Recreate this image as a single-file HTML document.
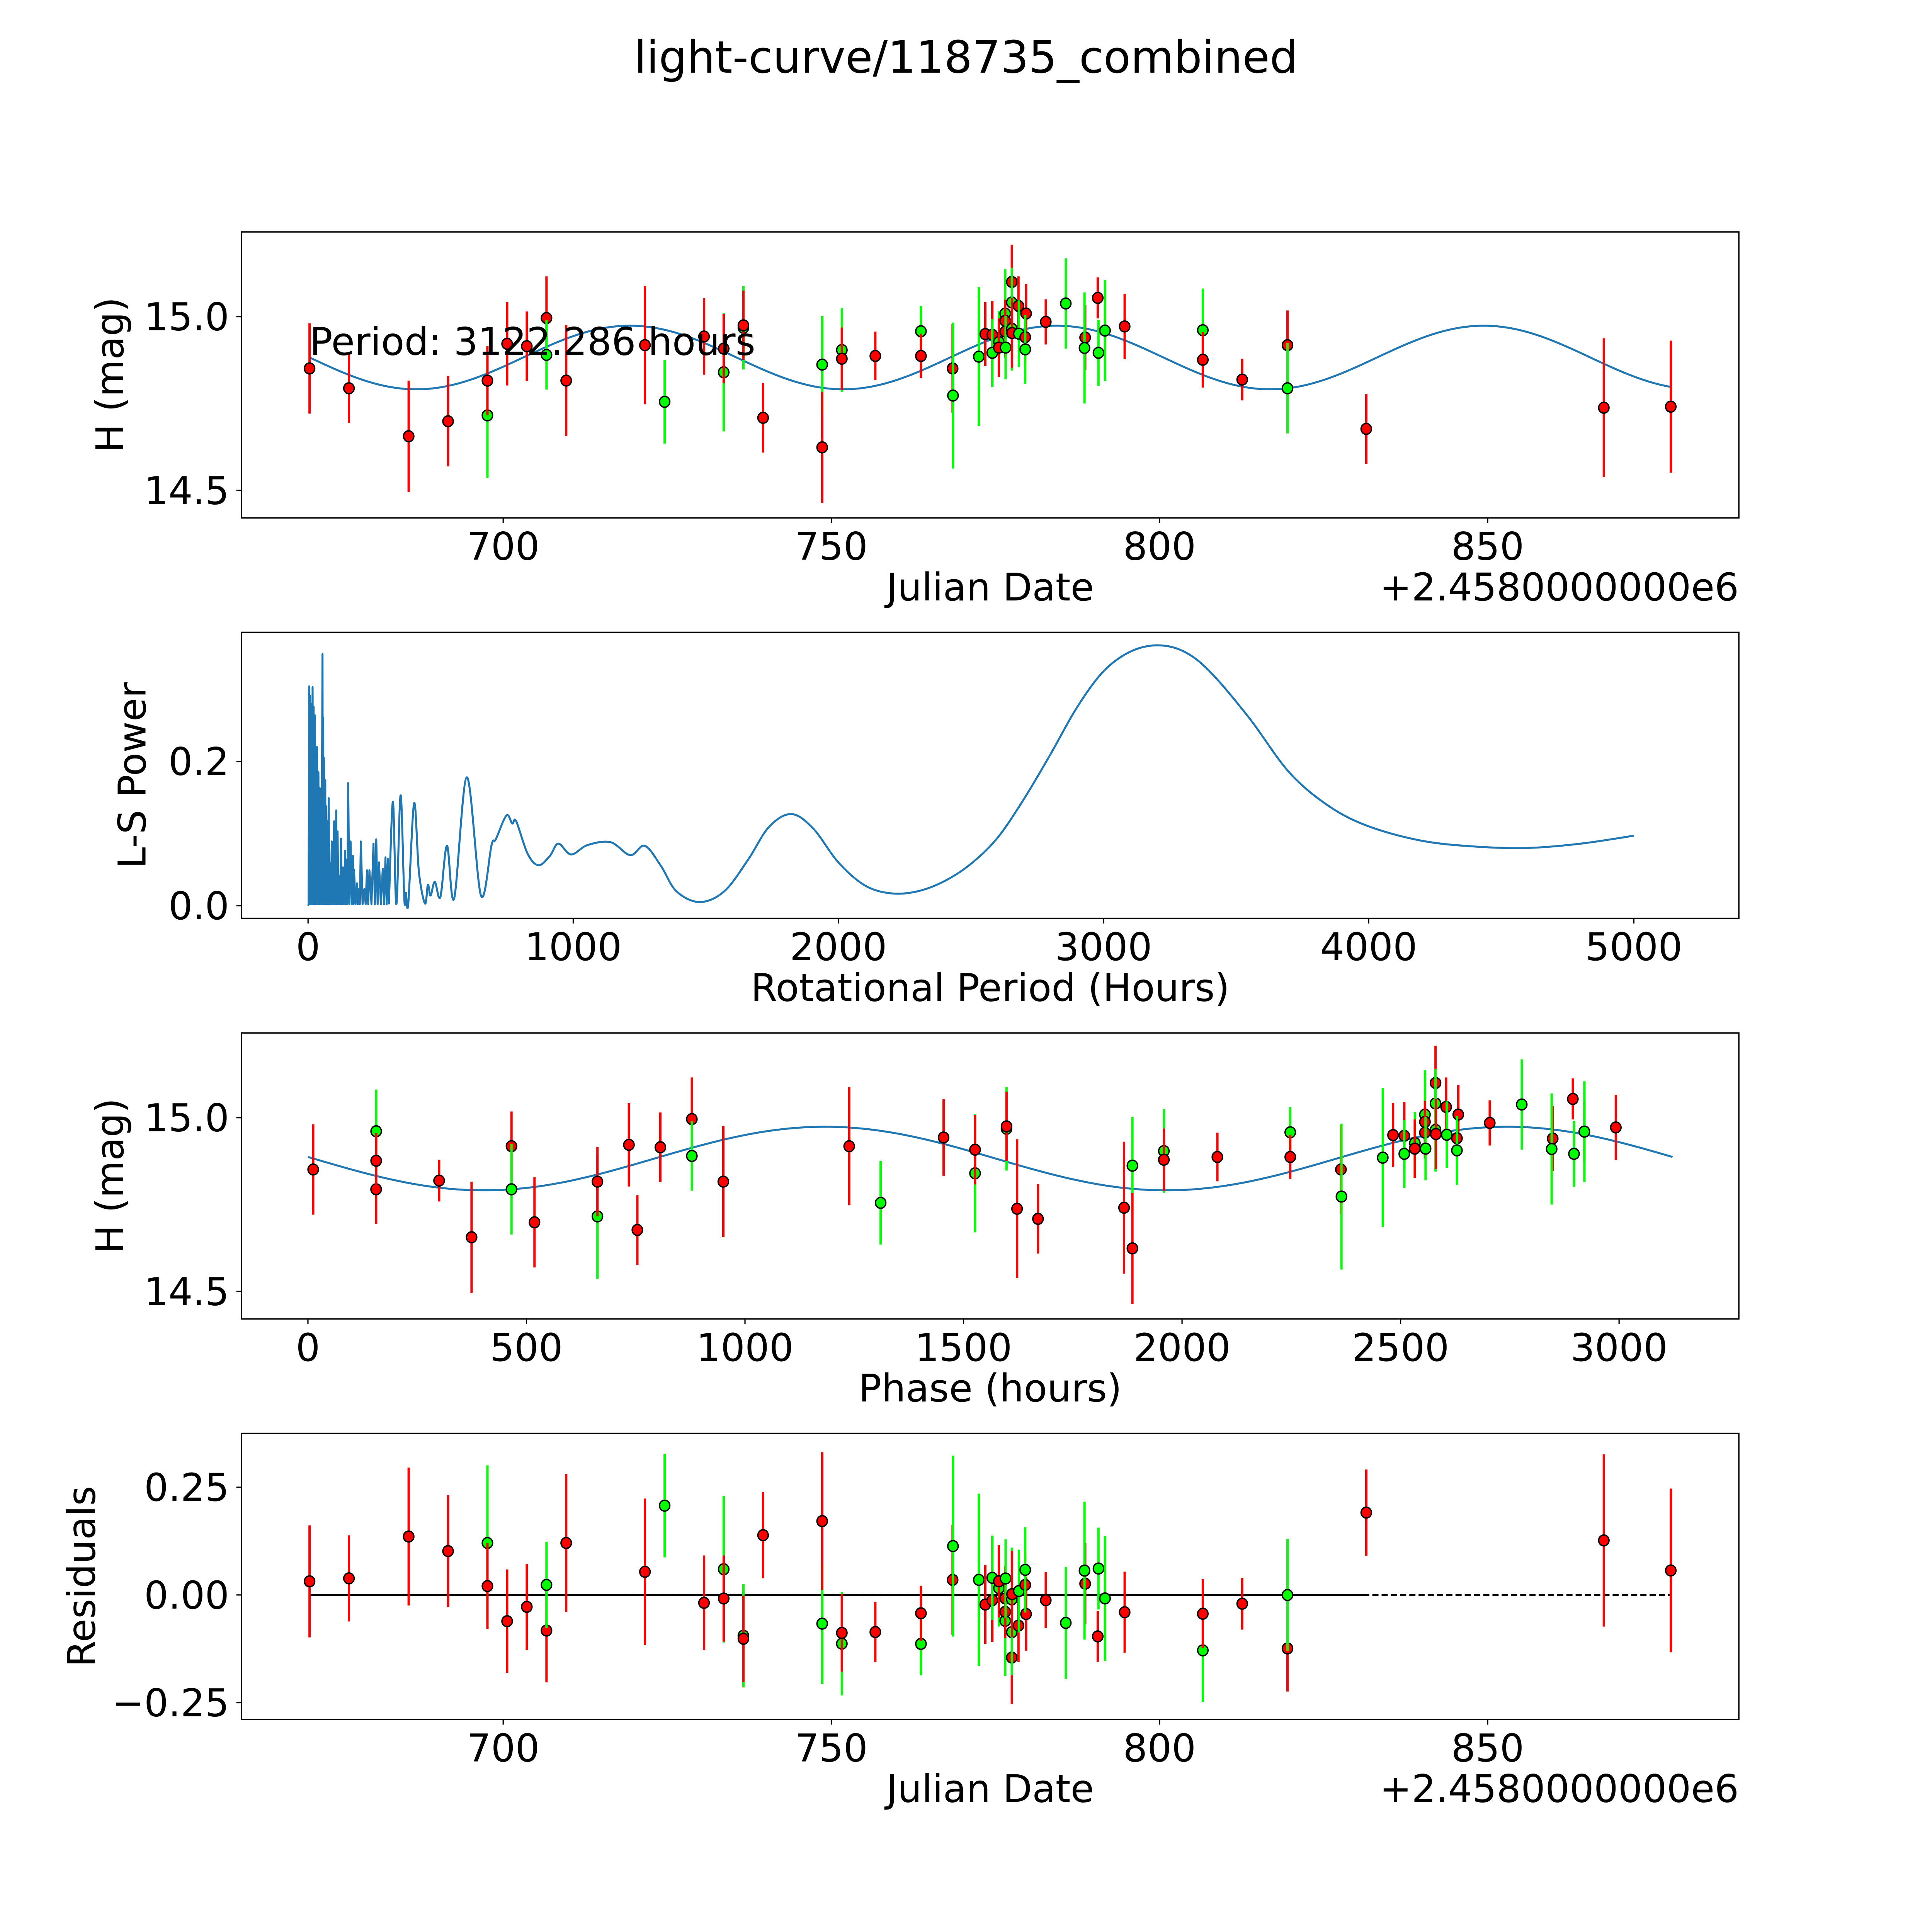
<!DOCTYPE html>
<html><head><meta charset="utf-8"><title>light-curve/118735_combined</title>
<style>
html,body{margin:0;padding:0;background:#fff;overflow:hidden;width:5400px;height:5400px;}
svg{display:block;width:5400px;height:5400px;font-family:"DejaVu Sans","Liberation Sans",sans-serif;}
</style></head>
<body>
<svg id="fig" xmlns="http://www.w3.org/2000/svg" width="5400" height="5400" viewBox="0 0 1693.4 1693.4">
<rect x="0" y="0" width="1693.4" height="1693.4" fill="#fff"/>
<text x="784" y="59" text-anchor="middle" font-size="36">light-curve/118735_combined</text>
</svg>
<script>
// ---- observation data ----
const obsJD = [670.5,676.5,685.6,691.6,697.6,697.6,700.6,703.6,706.6,706.6,709.6,721.6,724.6,730.6,733.6,733.6,736.6,736.6,739.6,748.6,748.6,751.6,751.6,756.7,
763.65,763.65,768.48,768.53,772.47,773.45,774.52,774.52,775.53,775.52,776.49,776.49,776.49,776.55,777.50,777.50,777.50,777.53,778.51,778.57,779.67,779.54,779.54,782.67,785.72,788.67,788.57,790.59,790.70,791.69,791.69,794.69,
806.6,806.6,812.6,819.5,819.5,831.5,867.7,877.9];
const obsMag = [14.851,14.794,14.656,14.699,14.716,14.816,14.922,14.915,14.996,14.890,14.816,14.918,14.755,14.943,14.840,14.908,14.968,14.975,14.709,14.862,14.624,14.904,14.879,14.887,
14.958,14.887,14.851,14.773,14.885,14.950,14.948,14.896,14.927,14.911,15.009,14.988,14.957,14.911,15.100,15.041,14.965,14.953,15.031,14.951,15.009,14.941,14.906,14.985,15.038,14.940,14.910,15.054,14.896,14.960,14.960,14.972,
14.961,14.876,14.819,14.918,14.794,14.677,14.738,14.741];
const obsErr = [0.13,0.10,0.16,0.13,0.18,0.10,0.12,0.10,0.12,0.10,0.16,0.17,0.12,0.11,0.17,0.10,0.12,0.10,0.10,0.14,0.16,0.12,0.09,0.07,
0.073,0.064,0.128,0.21,0.2,0.092,0.097,0.098,0.089,0.084,0.128,0.061,0.073,0.091,0.107,0.10,0.12,0.10,0.085,0.096,0.085,0.072,0.099,0.065,0.13,0.094,0.16,0.059,0.095,0.087,0.145,0.094,
0.12,0.08,0.06,0.10,0.13,0.10,0.2,0.19];
const obsBand = ['r','r','r','r','g','r','r','r','r','g','r','r','g','r','g','r','g','r','r','g','r','g','r','r',
'g','r','r','g','g','r','r','g','g','r','g','r','r','g','r','g','g','r','r','g','r','r','g','r','g','r','g','r','g','r','g','r',
'g','r','r','r','g','r','r','r'];
// ---- model parameters ----
const modelMean = [14.8825];
const modelAmp = [0.0915];
const modelPeakJD = [719.3];
const periodHours = [3122.286];
const phaseZeroJD = [670.0];
// ---- periodogram ----
const spikePeriod = [4.2,8.1,11.9,17.1,21.0,26.1,33.9,39.0,44.2,46.8,54.5,57.1,59.7,64.8,67.4,71.3,77.8,82.9,89.4,93.2,98.4,106.1,111.3,117.7,124.2,132.0,139.7,144.9,151.3,160.4,169.4,173.3,184.9,191.3,199.1,212.0,222.3,231.4,246.8,257.2,267.5,281.7,292.0,301.0];
const spikePower = [0.304,0.291,0.280,0.303,0.276,0.264,0.220,0.185,0.163,0.141,0.349,0.261,0.205,0.174,0.138,0.118,0.149,0.059,0.089,0.077,0.117,0.132,0.103,0.041,0.093,0.053,0.076,0.064,0.170,0.089,0.069,0.050,0.031,0.023,0.089,0.023,0.049,0.049,0.086,0.092,0.060,0.051,0.067,0.065];
const spikeFloor = [0.002];
const smoothPeriod = [305,320,333,349,363,369,378,400,418,441,452,462,478,499,524,551,599,652,692,708,748,770,785,828,869,912,944,992,1054,1141,1215,1270,1331,1389,1477,1570,1660,1738,1822,1905,2000,2100,2200,2300,2400,2500,2600,2700,2800,2900,3000,3100,3200,3300,3400,3550,3700,3850,4000,4200,4400,4600,4800,5000];
const smoothPower = [0.003,0.144,0.002,0.153,0.009,0.018,0.003,0.142,0.047,0.003,0.029,0.014,0.033,0.012,0.083,0.010,0.178,0.014,0.084,0.092,0.125,0.114,0.117,0.072,0.056,0.069,0.086,0.071,0.084,0.088,0.070,0.083,0.055,0.020,0.005,0.020,0.064,0.109,0.127,0.107,0.060,0.028,0.017,0.020,0.034,0.058,0.094,0.148,0.210,0.275,0.325,0.352,0.361,0.353,0.325,0.260,0.185,0.138,0.110,0.090,0.082,0.080,0.086,0.097];
// ---- ticks ----
const jdTicks = [700,750,800,850];
const magTicks = [14.5,15.0];
const periodTicks = [0,1000,2000,3000,4000,5000];
const powerTicks = [0.0,0.2];
const phaseTicks = [0,500,1000,1500,2000,2500,3000];
const residTicks = [-0.25,0.0,0.25];

const FS = 31;
const NS = 'http://www.w3.org/2000/svg';
const svg = document.getElementById('fig');
function el(tag, attrs, parent){ const e=document.createElementNS(NS,tag); for(const k in attrs) e.setAttribute(k,attrs[k]); (parent||svg).appendChild(e); return e; }

function makeAxis(name, left, top, right, bottom, xmin, xmax, ymin, ymax){
  const g = el('g',{});
  
  
  const clipId = name+'-clip';
  const cp = el('clipPath',{id:clipId},g);
  el('rect',{x:left,y:top,width:right-left,height:bottom-top},cp);
  const plot = el('g',{'clip-path':'url(#'+clipId+')'},g);
  return {g, plot, left, top, right, bottom,
    sx: v => left + (v-xmin)/(xmax-xmin)*(right-left),
    sy: v => bottom - (v-ymin)/(ymax-ymin)*(bottom-top)};
}
function frame(ax, xt, xfmt, yt, yfmt, xlabel, ylabel, ylabelX, offsetText){
  const f = el('rect',{x:ax.left,y:ax.top,width:ax.right-ax.left,height:ax.bottom-ax.top,fill:'none',stroke:'#000','stroke-width':1.1},ax.g);
  
  
  xt.forEach(v=>{
    const x=ax.sx(v);
    el('line',{x1:x,x2:x,y1:ax.bottom,y2:ax.bottom+4.2,stroke:'#000','stroke-width':1},ax.g);
    const t=el('text',{x:x,y:ax.bottom+34,'text-anchor':'middle','font-size':FS},ax.g);
    t.textContent = xfmt(v);
    
    
  });
  yt.forEach(v=>{
    const y=ax.sy(v);
    el('line',{x1:ax.left-4.2,x2:ax.left,y1:y,y2:y,stroke:'#000','stroke-width':1},ax.g);
    const t=el('text',{x:ax.left-10,y:y+11,'text-anchor':'end','font-size':FS},ax.g);
    t.textContent = yfmt(v);
    
    
  });
  const xl=el('text',{x:(ax.left+ax.right)/2,y:ax.bottom+67,'text-anchor':'middle','font-size':FS},ax.g);
  xl.textContent=xlabel;
  
  
  const cy=(ax.top+ax.bottom)/2;
  const yl=el('text',{x:ylabelX,y:cy,'text-anchor':'middle','font-size':FS,transform:'rotate(-90 '+ylabelX+' '+cy+')'},ax.g);
  yl.textContent=ylabel;
  
  
  if(offsetText){
    const ot=el('text',{x:ax.right,y:ax.bottom+67,'text-anchor':'end','font-size':FS},ax.g);
    ot.textContent=offsetText;
    
    
  }
}
const colorOf = b => b==='g' ? '#00ff00' : '#ff0000';
function model(jd){ return modelMean[0] + modelAmp[0]*Math.cos(2*Math.PI*(jd-modelPeakJD[0])/(periodHours[0]/48)); }
function drawPoints(ax, xs, ys, errs){
  for(let i=0;i<xs.length;i++){
    const x=ax.sx(xs[i]);
    const b=el('line',{x1:x,x2:x,y1:ax.sy(ys[i]-errs[i]),y2:ax.sy(ys[i]+errs[i]),stroke:colorOf(obsBand[i]),'stroke-width':1.9},ax.plot);
    
    
    const c=el('ellipse',{cx:x,cy:ax.sy(ys[i]),rx:4.2,ry:4.4,fill:colorOf(obsBand[i]),stroke:'#000','stroke-width':1.1},ax.plot);
    
    
  }
}
const fmt1 = v => v.toFixed(1);
const fmt0 = v => String(v);
const fmt2 = v => (v<0?'\u2212':'')+Math.abs(v).toFixed(2);

const L=196, R=1411.2;
const jdMin=Math.min(...obsJD), jdMax=Math.max(...obsJD), jdPad=(jdMax-jdMin)*0.05;

// ---- Panel 1: light curve ----
const ax1 = makeAxis('light-curve-panel', L,188.2,R,420.3, jdMin-jdPad, jdMax+jdPad, 14.421, 15.244);
{
  let d='';
  for(let k=0;k<=400;k++){ const t=jdMin+(jdMax-jdMin)*k/400; d+=(k?'L':'M')+ax1.sx(t).toFixed(2)+' '+ax1.sy(model(t)).toFixed(2); }
  const p=el('path',{d:d,fill:'none',stroke:'#1f77b4','stroke-width':1.6},ax1.plot);
  
  
  drawPoints(ax1, obsJD, obsMag, obsErr);
  const pt=el('text',{x:ax1.sx(jdMin),y:288,'font-size':FS},ax1.g);
  pt.textContent='Period: '+periodHours[0].toFixed(3)+' hours';
  
  
  frame(ax1, jdTicks, fmt0, magTicks, fmt1, 'Julian Date', 'H (mag)', 100, '+2.4580000000e6');
}

// ---- Panel 2: periodogram ----
const ax2 = makeAxis('periodogram-panel', L,513.2,R,745.3, -251, 5396, -0.0176, 0.379);
{
  let d='M'+ax2.sx(0)+' '+ax2.sy(0);
  let prev=0;
  for(let i=0;i<spikePeriod.length;i++){
    const mid=(prev+spikePeriod[i])/2;
    d+='L'+ax2.sx(mid).toFixed(2)+' '+ax2.sy(spikeFloor[0]).toFixed(2);
    d+='L'+ax2.sx(spikePeriod[i]).toFixed(2)+' '+ax2.sy(spikePower[i]).toFixed(2);
    prev=spikePeriod[i];
  }
  const P=smoothPeriod.map(v=>ax2.sx(v)), Q=smoothPower.map(v=>ax2.sy(v));
  d+='L'+P[0].toFixed(2)+' '+Q[0].toFixed(2);
  for(let i=0;i<P.length-1;i++){
    const p0x=P[Math.max(i-1,0)],p0y=Q[Math.max(i-1,0)],p3x=P[Math.min(i+2,P.length-1)],p3y=Q[Math.min(i+2,P.length-1)];
    const c1x=P[i]+(P[i+1]-p0x)/6, c1y=Q[i]+(Q[i+1]-p0y)/6;
    const c2x=P[i+1]-(p3x-P[i])/6, c2y=Q[i+1]-(p3y-Q[i])/6;
    d+='C'+c1x.toFixed(2)+' '+c1y.toFixed(2)+' '+c2x.toFixed(2)+' '+c2y.toFixed(2)+' '+P[i+1].toFixed(2)+' '+Q[i+1].toFixed(2);
  }
  const p=el('path',{d:d,fill:'none',stroke:'#1f77b4','stroke-width':1.6,'stroke-linejoin':'round'},ax2.plot);
  
  
  frame(ax2, periodTicks, fmt0, powerTicks, fmt1, 'Rotational Period (Hours)', 'L-S Power', 118, null);
}

// ---- Panel 3: phased light curve ----
const ax3 = makeAxis('phased-curve-panel', L,838.3,R,1070.4, -152, 3274, 14.421, 15.244);
{
  const per=periodHours[0];
  let d='';
  for(let k=0;k<=400;k++){ const ph=per*k/400; const t=phaseZeroJD[0]+ph/24; d+=(k?'L':'M')+ax3.sx(ph).toFixed(2)+' '+ax3.sy(model(t)).toFixed(2); }
  const p=el('path',{d:d,fill:'none',stroke:'#1f77b4','stroke-width':1.6},ax3.plot);
  
  
  const phases=obsJD.map(t=>(((t-phaseZeroJD[0])*24)%per+per)%per);
  drawPoints(ax3, phases, obsMag, obsErr);
  frame(ax3, phaseTicks, fmt0, magTicks, fmt1, 'Phase (hours)', 'H (mag)', 100, null);
}

// ---- Panel 4: residuals ----
const ax4 = makeAxis('residuals-panel', L,1163.3,R,1395.5, jdMin-jdPad, jdMax+jdPad, -0.289, 0.375);
{
  const y0=ax4.sy(0);
  const dl=el('line',{x1:ax4.sx(jdMin),x2:ax4.sx(jdMax),y1:y0,y2:y0,stroke:'#000','stroke-width':1.3,'stroke-dasharray':'5 2.5'},ax4.plot);
  
  
  const sl=el('line',{x1:ax4.sx(jdMin),x2:ax4.sx(831.5),y1:y0,y2:y0,stroke:'#000','stroke-width':1.3},ax4.plot);
  
  
  const resid=obsJD.map((t,i)=>model(t)-obsMag[i]);
  drawPoints(ax4, obsJD, resid, obsErr);
  frame(ax4, jdTicks, fmt0, residTicks, fmt2, 'Julian Date', 'Residuals', 77, '+2.4580000000e6');
}
</script>
</body></html>
